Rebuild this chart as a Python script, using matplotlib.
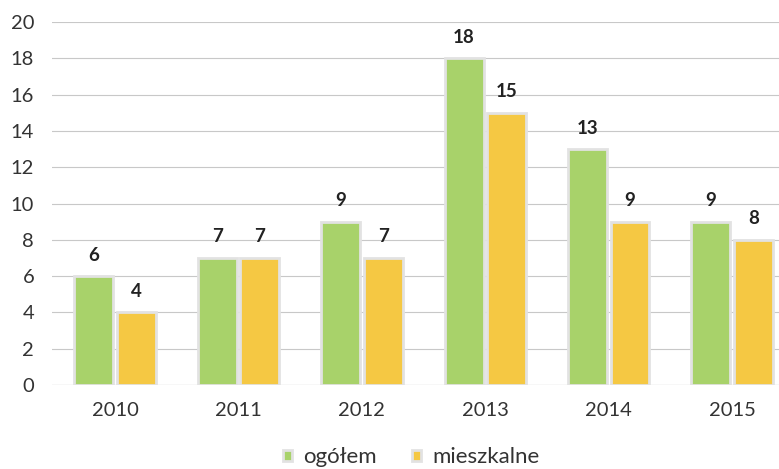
import numpy as np
import matplotlib.pyplot as plt

years = ["2010", "2011", "2012", "2013", "2014", "2015"]
ogolem = [6, 7, 9, 18, 13, 9]
mieszkalne = [4, 7, 7, 15, 9, 8]

green = "#a8d26a"
yellow = "#f5c843"

plt.rcParams['font.family'] = ['Lato', 'DejaVu Sans']

fig = plt.figure(figsize=(7.79, 4.69), dpi=100)
ax = fig.add_axes([0.067, 0.179, 0.933, 0.774])

x = np.arange(len(years))
w = 0.315
off = 0.172

b1 = ax.bar(x - off, ogolem, w, color=green, edgecolor="#e2e2e2", linewidth=2, zorder=3, label="ogółem")
b2 = ax.bar(x + off, mieszkalne, w, color=yellow, edgecolor="#e2e2e2", linewidth=2, zorder=3, label="mieszkalne")

for bars in (b1, b2):
    for r in bars:
        ax.annotate(f"{r.get_height():.0f}", (r.get_x() + r.get_width() / 2, r.get_height()),
                    xytext=(0, 9), textcoords="offset points",
                    ha="center", va="bottom", fontsize=13.5, fontweight="bold", color="#222222")

ax.set_ylim(0, 20)
ax.set_yticks(range(0, 21, 2))
ax.set_xlim(-0.51, 5.38)
ax.set_xticks(x)
ax.set_xticklabels(years)
ax.grid(axis="y", color="#c8c8c8", linewidth=0.8, zorder=0)
for s in ax.spines.values():
    s.set_visible(False)
ax.axhline(0, color="#b0b0b0", linewidth=0.8, zorder=1)
ax.tick_params(axis="both", length=0, labelsize=14.5, colors="#333333")
ax.tick_params(axis="x", pad=12)
ax.tick_params(axis="y", pad=13)

fig.legend(handles=[b1, b2], loc="center", bbox_to_anchor=(0.528, 0.025), ncol=2, frameon=False,
           fontsize=16, handlelength=0.4, handleheight=0.4, handletextpad=0.5, columnspacing=1.6,
           labelcolor="#333333")

fig.savefig("out.png", dpi=100)
